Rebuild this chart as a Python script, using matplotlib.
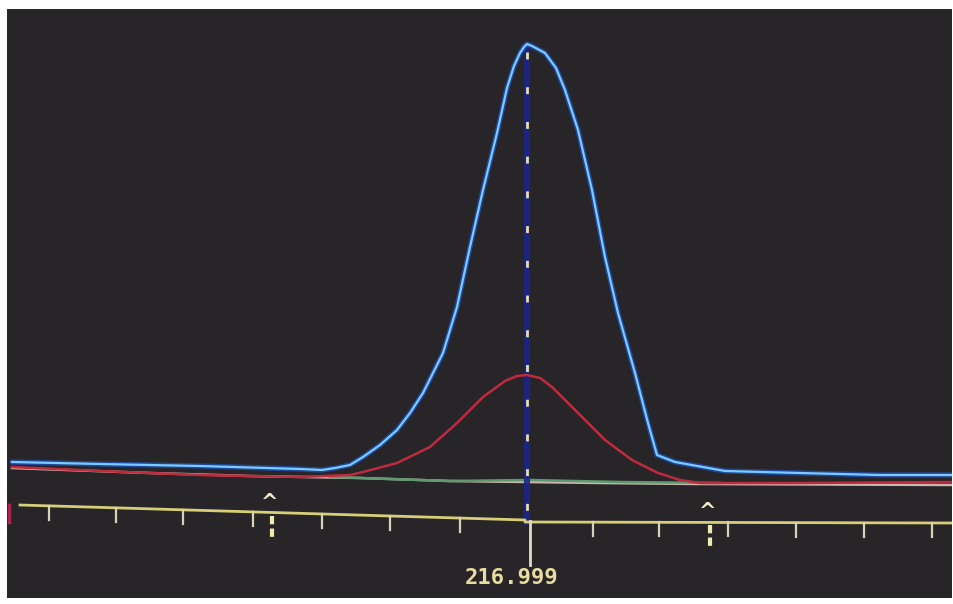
"""
Recreation of a photographed spectrometer screen: one emission peak at
216.999 nm, with the raw (blue) and fitted (red) traces over a baseline.
Values are read in screen units (x: channel, y: screen row, 0 at top).
"""

import matplotlib.pyplot as plt

# main (blue) trace
blue_x = [12, 100, 200, 300, 322, 335, 350, 363, 380, 397, 410, 423, 443, 457, 470,
          483, 497, 507, 514, 520, 524, 527, 532, 545, 556, 565, 578, 592, 605, 618,
          635, 648, 657, 675, 725, 800, 880, 952]
blue_y = [462, 464, 466, 469, 470, 468, 465, 457, 445, 430, 413, 393, 353, 307, 247,
          190, 133, 88, 66, 53, 47, 44, 46, 53, 68, 90, 130, 190, 257, 313,
          373, 423, 455, 462, 471, 473, 475, 475]

# fitted (red) trace
red_x = [12, 100, 200, 300, 350, 363, 397, 430, 457, 483, 505, 517, 527, 540, 552,
         578, 605, 632, 658, 680, 700, 800, 952]
red_y = [467, 471, 475, 477, 475, 472, 463, 447, 423, 397, 381, 376, 375, 378, 387,
         413, 440, 460, 473, 480, 483, 483, 482]

# baseline traces
grey_x = [12, 150, 250, 360, 450, 600, 700, 952]
grey_y = [468, 473, 476, 478, 481, 483, 484, 485]
green_x = [330, 450, 530, 620, 720]
green_y = [477, 481, 480, 482, 483]

# wavelength scale
tick_x = [49, 116, 183, 253, 322, 390, 460, 593, 659, 728, 796, 864, 932]
scale_x = [20, 525, 525, 952]
scale_y = [505, 520, 522, 523]
peak_x = 527
peak_label = "216.999"
window_x = [270, 708]
window_y = [498, 507]

BG = "#272527"


def scale_row(x):
    """Screen row of the scale line at channel x."""
    if x <= 525:
        return 505 + (x - 20) * (520 - 505) / (525 - 20)
    return 522 + (x - 525) * (523 - 522) / (952 - 525)


def main() -> None:
    fig = plt.figure(figsize=(9.54, 6.04), dpi=100, facecolor="white")
    ax = fig.add_axes([7 / 954, 6 / 604, 945 / 954, 589 / 604])
    ax.set_facecolor(BG)
    ax.set_xlim(7, 952)
    ax.set_ylim(598, 9)
    ax.axis("off")
    ax.add_patch(plt.Rectangle((0, 0), 1, 1, transform=ax.transAxes,
                               facecolor=BG, zorder=0))

    # baselines
    ax.plot(grey_x, grey_y, color="#c9b6ae", lw=1.8, zorder=2)
    ax.plot(green_x, green_y, color="#5e9a70", lw=1.8, zorder=2)

    # peak marker: dark blue band with light dashes
    ax.plot([peak_x, peak_x], [48, 522], color="#1b2686", lw=4.5, alpha=0.9, zorder=3)
    dash = ax.plot([peak_x, peak_x], [52, 522], color="#e8dcb0", lw=2, zorder=4)[0]
    dash.set_dashes([2.5, 10])

    # traces
    ax.plot(red_x, red_y, color="#c02a3e", lw=1.8, zorder=5)
    ax.plot(blue_x, blue_y, color="#1d55c8", lw=3.8, alpha=0.7, zorder=6,
            solid_capstyle="round", solid_joinstyle="round")
    ax.plot(blue_x, blue_y, color="#7ccaff", lw=1.6, zorder=7,
            solid_joinstyle="round")

    # scale line and ticks
    ax.plot(scale_x, scale_y, color="#d6cf78", lw=2, zorder=3)
    for x in tick_x:
        y0 = scale_row(x)
        ax.plot([x, x], [y0, y0 + 14], color="#d8d2b8", lw=1.6, zorder=3)
    ax.plot([peak_x + 3, peak_x + 3], [521, 565], color="#e0dcc0", lw=2, zorder=3)
    ax.text(512, 578, peak_label, color="#e8dca0", fontsize=16,
            family="DejaVu Sans Mono", fontweight="bold",
            ha="center", va="center", zorder=8)

    # integration window markers
    for x, y in zip(window_x, window_y):
        ax.text(x, y + 5, "^", color="#f0e8c8", fontsize=15, fontweight="bold",
                ha="center", va="center", zorder=8)
        stem = ax.plot([x + 2, x + 2], [y + 18, y + 42], color="#f0eab0",
                       lw=3, zorder=8)[0]
        stem.set_dashes([2, 1])

    # stray red mark at the left edge
    ax.plot([9, 9], [505, 522], color="#b02050", lw=2.5, zorder=3)

    fig.savefig("out.png", dpi=100, facecolor="white")
    plt.close(fig)


if __name__ == "__main__":
    main()
